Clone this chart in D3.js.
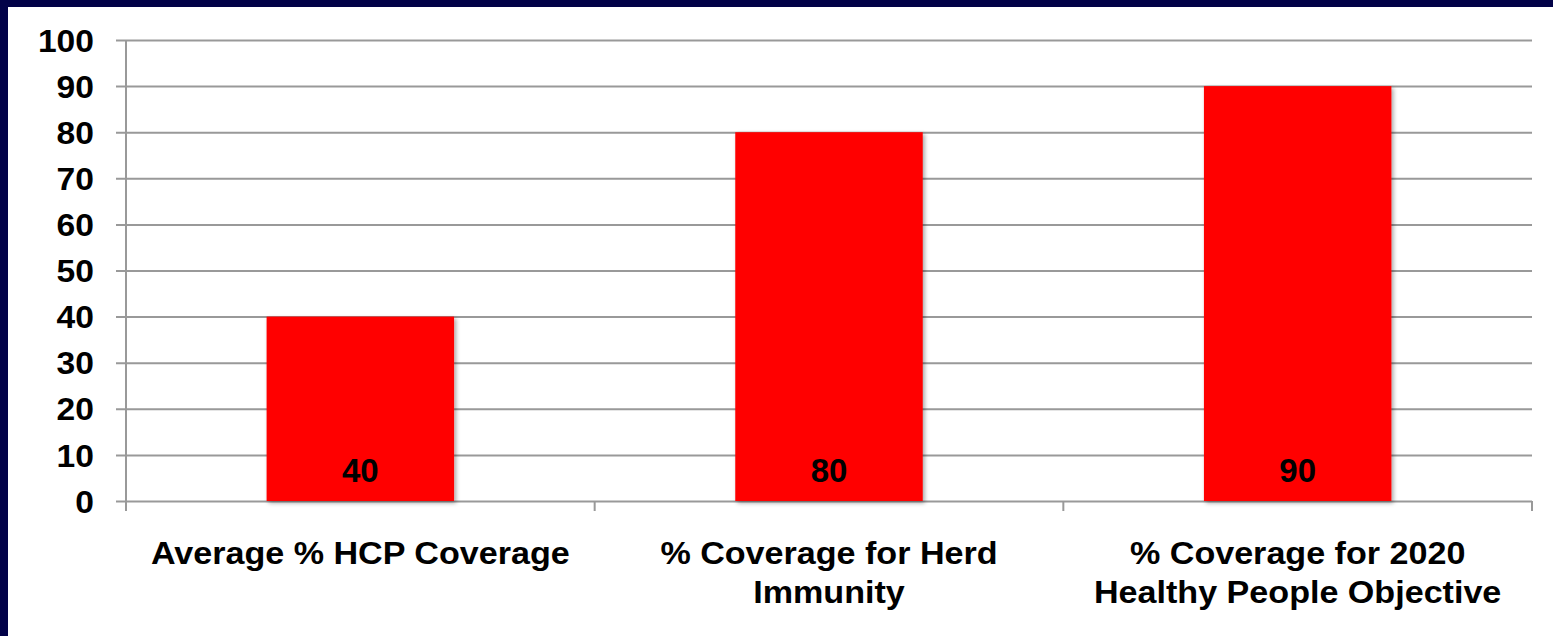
<!DOCTYPE html>
<html>
<head>
<meta charset="utf-8">
<script src="https://cdn.jsdelivr.net/npm/d3@7"></script>
<style>
  html, body { margin: 0; padding: 0; background: #ffffff; }
  svg { display: block; }
  text { font-family: "Liberation Sans", Arial, Helvetica, sans-serif; font-weight: bold; fill: #000; }
</style>
</head>
<body>
<svg id="chart" width="1553" height="636"></svg>
<script>
// Vaccination coverage figures
const categories = [
  "Average % HCP Coverage",
  "% Coverage for Herd\nImmunity",
  "% Coverage for 2020\nHealthy People Objective"
];
const coverage = [40, 80, 90];
const yTicks = [0, 10, 20, 30, 40, 50, 60, 70, 80, 90, 100];

const W = 1553, H = 636;
const svg = d3.select("#chart");
const stretch = 1.085;      // slightly wide lettering on the value axis
const labelStretch = 1.1;   // and on the category labels

// slide frame: navy band along the top and left edges
svg.append("rect").attr("x", 0).attr("y", 0).attr("width", W).attr("height", H).attr("fill", "#020248");
svg.append("rect").attr("x", 8).attr("y", 7).attr("width", W - 8).attr("height", H - 7).attr("fill", "#ffffff");

const defs = svg.append("defs");
const shadow = defs.append("filter").attr("id", "barShadow")
  .attr("x", "-10%").attr("y", "-10%").attr("width", "130%").attr("height", "130%");
shadow.append("feDropShadow")
  .attr("dx", 2).attr("dy", 2).attr("stdDeviation", 2)
  .attr("flood-color", "#000").attr("flood-opacity", 0.35);

const x = d3.scaleBand()
  .domain(categories)
  .range([126, 1532])
  .paddingInner(0.6)
  .paddingOuter(0.3);

const y = d3.scaleLinear().domain([0, 100]).range([501, 40]);

const gridColor = "#999999";

// horizontal gridlines with short outward ticks
const yAxis = d3.axisLeft(y)
  .tickValues(yTicks)
  .tickSize(-(1532 - 126))
  .tickSizeOuter(0);

const gy = svg.append("g").attr("transform", "translate(126,0)").call(yAxis);
gy.select(".domain").remove();
gy.selectAll(".tick line")
  .attr("x1", -10)
  .attr("stroke", gridColor)
  .attr("stroke-width", 2);
gy.selectAll(".tick text")
  .attr("x", 0)
  .attr("transform", `translate(-32,0) scale(${stretch},1)`)
  .attr("font-size", 31)
  .attr("font-family", "'Liberation Sans', Arial, sans-serif")
  .attr("font-weight", "bold")
  .attr("fill", "#000")
  .attr("dy", "0.36em");

// vertical axis line
svg.append("line")
  .attr("x1", 126).attr("x2", 126)
  .attr("y1", y(100)).attr("y2", y(0) + 10)
  .attr("stroke", gridColor).attr("stroke-width", 2);

// category boundary ticks under the baseline
const step = x.step();
const boundaries = d3.range(categories.length + 1).map(i => 126 + i * step);
svg.append("g").selectAll("line")
  .data(boundaries.slice(1))
  .join("line")
  .attr("x1", d => d).attr("x2", d => d)
  .attr("y1", y(0)).attr("y2", y(0) + 10)
  .attr("stroke", gridColor).attr("stroke-width", 2);

// bars
svg.append("g").selectAll("rect")
  .data(coverage)
  .join("rect")
  .attr("x", (d, i) => x(categories[i]))
  .attr("y", d => y(d))
  .attr("width", x.bandwidth())
  .attr("height", d => y(0) - y(d))
  .attr("fill", "#ff0000")
  .attr("filter", "url(#barShadow)");

// value labels near the base of each bar
svg.append("g").selectAll("text")
  .data(coverage)
  .join("text")
  .attr("x", (d, i) => x(categories[i]) + x.bandwidth() / 2)
  .attr("y", y(0) - 19)
  .attr("text-anchor", "middle")
  .attr("font-size", 33)
  .text(d => d);

// category labels, one tspan per line
const labels = svg.append("g").selectAll("text")
  .data(categories)
  .join("text")
  .attr("transform", d => `translate(${x(d) + x.bandwidth() / 2},564) scale(${labelStretch},1)`)
  .attr("text-anchor", "middle")
  .attr("font-size", 31);

labels.selectAll("tspan")
  .data(d => d.split("\n"))
  .join("tspan")
  .attr("x", 0)
  .attr("dy", (d, i) => i === 0 ? 0 : 39)
  .text(d => d);
</script>
</body>
</html>
